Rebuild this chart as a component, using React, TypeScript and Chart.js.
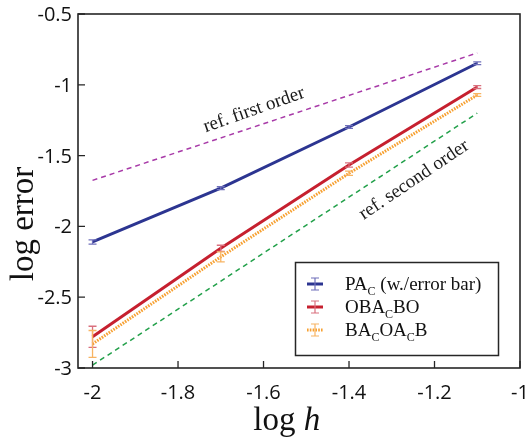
import React, { useEffect, useRef } from 'react';
import { Chart, registerables } from 'chart.js';

Chart.register(...registerables);

// ---- data ----
const logH = [-2, -1.7, -1.4, -1.1];
const paC = [-2.11, -1.73, -1.298, -0.848];
const paCErr = [0.015, 0.01, 0.01, 0.01];
const obacbo = [-2.78, -2.155, -1.566, -1.016];
const obacboErr = [0.075, 0.022, 0.015, 0.01];
const bacoacb = [-2.83, -2.215, -1.625, -1.072];
const bacoacbErr = [0.095, 0.035, 0.015, 0.01];
const refX = [-2, -1.1];
const refFirst = [-1.675, -0.775];
const refSecond = [-2.98, -1.2];
const xTicks = [-2, -1.8, -1.6, -1.4, -1.2, -1];
const yTicks = [-3, -2.5, -2, -1.5, -1, -0.5];
const legendLabels = ['PA_C (w./error bar)', 'OBA_CBO', 'BA_COA_CB'];
const refLabels = ['ref. first order', 'ref. second order'];

const BLUE = '#2c3591';
const RED = '#c6202f';
const ORANGE = '#f7a132';
const PURPLE = '#a83aa8';
const GREEN = '#22a04a';
const BAR_COLORS = ['#6f6fba', '#d9707e', '#f8b462'];

const SERIF = '"Liberation Serif", "Times New Roman", serif';
const SANS = '"Open Sans", sans-serif';

function pts(xs: number[], ys: number[]) {
  return xs.map((x, i) => ({ x, y: ys[i] }));
}

function drawSubText(ctx: CanvasRenderingContext2D, text: string, x: number, y: number, size: number) {
  // "_C" => subscript C
  let cx = x;
  let i = 0;
  while (i < text.length) {
    if (text[i] === '_' && i + 1 < text.length) {
      ctx.font = `${Math.round(size * 0.62)}px ${SERIF}`;
      ctx.fillText(text[i + 1], cx, y + size * 0.28);
      cx += ctx.measureText(text[i + 1]).width;
      i += 2;
    } else {
      let j = i;
      while (j < text.length && text[j] !== '_') j++;
      const seg = text.slice(i, j);
      ctx.font = `${size}px ${SERIF}`;
      ctx.fillText(seg, cx, y);
      cx += ctx.measureText(seg).width;
      i = j;
    }
  }
}

const series = [
  { vals: paC, errs: paCErr, color: BLUE, dash: [] as number[] },
  { vals: obacbo, errs: obacboErr, color: RED, dash: [] as number[] },
  { vals: bacoacb, errs: bacoacbErr, color: ORANGE, dash: [1.6, 1.2] },
];

const customPlugin = {
  id: 'customDecor',
  afterDatasetsDraw(chart: any) {
    const { ctx, scales } = chart;
    const xs = scales.x;
    const ys = scales.y;
    ctx.save();
    series.forEach((s, si) => {
      ctx.strokeStyle = BAR_COLORS[si];
      ctx.lineWidth = 1.3;
      ctx.setLineDash([]);
      logH.forEach((hx, i) => {
        const px = xs.getPixelForValue(hx);
        const top = ys.getPixelForValue(s.vals[i] + s.errs[i]);
        const bot = ys.getPixelForValue(s.vals[i] - s.errs[i]);
        ctx.beginPath();
        ctx.moveTo(px, top);
        ctx.lineTo(px, bot);
        ctx.moveTo(px - 4, top);
        ctx.lineTo(px + 4, top);
        ctx.moveTo(px - 4, bot);
        ctx.lineTo(px + 4, bot);
        ctx.stroke();
      });
    });
    ctx.restore();
  },
  afterDraw(chart: any) {
    const { ctx, chartArea, scales } = chart;
    const xs = scales.x;
    const ys = scales.y;
    const { left, right, top, bottom } = chartArea;
    ctx.save();
    // frame
    ctx.strokeStyle = '#262626';
    ctx.lineWidth = 1.6;
    ctx.setLineDash([]);
    ctx.strokeRect(left, top, right - left, bottom - top);
    // inward ticks
    ctx.lineWidth = 1.3;
    ctx.beginPath();
    xTicks.forEach((v) => {
      const px = xs.getPixelForValue(v);
      ctx.moveTo(px, bottom);
      ctx.lineTo(px, bottom - 7);
    });
    yTicks.forEach((v) => {
      const py = ys.getPixelForValue(v);
      ctx.moveTo(left, py);
      ctx.lineTo(left + 7, py);
    });
    ctx.stroke();
    // tick labels
    ctx.fillStyle = '#111';
    ctx.font = `20px ${SANS}`;
    ctx.textBaseline = 'alphabetic';
    ctx.textAlign = 'center';
    xTicks.forEach((v) => {
      ctx.fillText(String(Math.round(v * 10) / 10), xs.getPixelForValue(v), 399);
    });
    ctx.textAlign = 'right';
    yTicks.forEach((v) => {
      ctx.fillText(String(Math.round(v * 10) / 10), left - 6, ys.getPixelForValue(v) + 7);
    });
    // axis titles
    ctx.textAlign = 'left';
    ctx.font = `33px ${SERIF}`;
    const logW = ctx.measureText('log ').width;
    const xTitleW = logW + 17;
    const xStart = (left + right) / 2 - 12 - xTitleW / 2;
    ctx.fillText('log ', xStart, 430);
    ctx.font = `italic 33px ${SERIF}`;
    ctx.fillText('h', xStart + logW, 430);
    ctx.save();
    ctx.font = `33px ${SERIF}`;
    ctx.translate(33, 224);
    ctx.rotate(-Math.PI / 2);
    ctx.textAlign = 'center';
    ctx.fillText('log error', 0, 0);
    ctx.restore();
    // reference labels
    ctx.fillStyle = '#1a1a1a';
    ctx.font = `19px ${SERIF}`;
    ctx.textAlign = 'center';
    ctx.textBaseline = 'middle';
    ctx.save();
    ctx.translate(254, 110);
    ctx.rotate((-19.4 * Math.PI) / 180);
    ctx.fillText(refLabels[0], 0, 0);
    ctx.restore();
    ctx.save();
    ctx.translate(414, 180);
    ctx.rotate((-34 * Math.PI) / 180);
    ctx.fillText(refLabels[1], 0, 0);
    ctx.restore();
    // legend
    const bx = 295.5, by = 262.5, bw = 203, bh = 93;
    ctx.fillStyle = '#ffffff';
    ctx.fillRect(bx, by, bw, bh);
    ctx.strokeStyle = '#262626';
    ctx.lineWidth = 1.5;
    ctx.strokeRect(bx, by, bw, bh);
    const rowY = [284, 307, 330];
    ctx.textBaseline = 'alphabetic';
    ctx.textAlign = 'left';
    series.forEach((s, i) => {
      const yy = rowY[i];
      ctx.strokeStyle = s.color;
      ctx.lineWidth = 3;
      ctx.setLineDash(s.dash);
      ctx.beginPath();
      ctx.moveTo(307, yy);
      ctx.lineTo(323, yy);
      ctx.stroke();
      ctx.setLineDash([]);
      ctx.strokeStyle = BAR_COLORS[i];
      ctx.lineWidth = 1.2;
      ctx.beginPath();
      ctx.moveTo(315, yy - 6);
      ctx.lineTo(315, yy + 6);
      ctx.moveTo(311, yy - 6);
      ctx.lineTo(319, yy - 6);
      ctx.moveTo(311, yy + 6);
      ctx.lineTo(319, yy + 6);
      ctx.stroke();
      ctx.fillStyle = '#111';
      drawSubText(ctx, legendLabels[i], 345, yy + 6, 19);
    });
    ctx.restore();
  },
};

export default function App() {
  const ref = useRef<HTMLCanvasElement | null>(null);
  useEffect(() => {
    if (!ref.current) return;
    const chart = new Chart(ref.current, {
      type: 'line',
      data: {
        datasets: [
          {
            label: 'ref. first order',
            data: pts(refX, refFirst),
            borderColor: PURPLE,
            borderWidth: 1.5,
            borderDash: [5, 4],
            pointRadius: 0,
            fill: false,
          },
          {
            label: 'ref. second order',
            data: pts(refX, refSecond),
            borderColor: GREEN,
            borderWidth: 1.5,
            borderDash: [5, 4],
            pointRadius: 0,
            fill: false,
          },
          {
            label: 'BACOACB',
            data: pts(logH, bacoacb),
            borderColor: ORANGE,
            borderWidth: 3,
            borderDash: [1.6, 1.2],
            pointRadius: 0,
            fill: false,
          },
          {
            label: 'OBACBO',
            data: pts(logH, obacbo),
            borderColor: RED,
            borderWidth: 3,
            pointRadius: 0,
            fill: false,
          },
          {
            label: 'PAC',
            data: pts(logH, paC),
            borderColor: BLUE,
            borderWidth: 3,
            pointRadius: 0,
            fill: false,
          },
        ],
      },
      options: {
        animation: false,
        responsive: true,
        maintainAspectRatio: false,
        layout: { padding: { left: 78, top: 14, right: 11, bottom: 71 } },
        plugins: { legend: { display: false }, tooltip: { enabled: false } },
        scales: {
          x: { type: 'linear', min: -2.034, max: -1, display: false },
          y: { type: 'linear', min: -3, max: -0.5, display: false },
        },
      },
      plugins: [customPlugin],
    });
    return () => chart.destroy();
  }, []);
  return (
    <div style={{ position: 'fixed', left: 0, top: 0, width: 531, height: 439, background: '#fff' }}>
      <canvas ref={ref} />
    </div>
  );
}
